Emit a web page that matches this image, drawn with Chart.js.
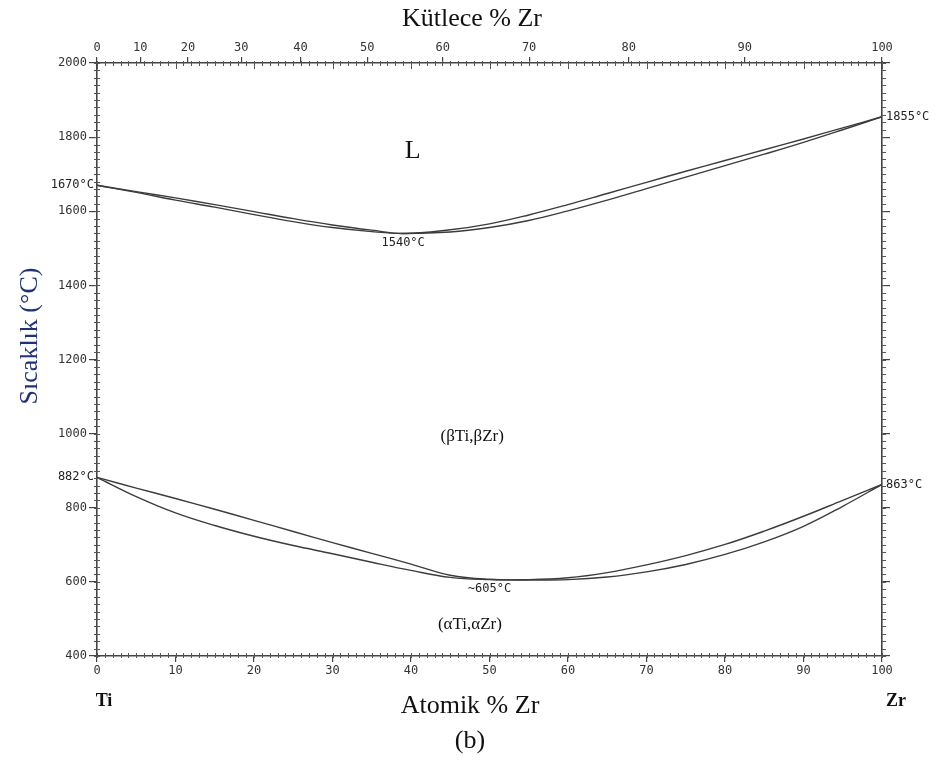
<!DOCTYPE html>
<html>
<head>
<meta charset="utf-8">
<script src="https://cdn.jsdelivr.net/npm/chart.js@4.4.1/dist/chart.umd.min.js"></script>
<style>
  html, body { margin: 0; background: #fff; }
  canvas { display: block; }
</style>
</head>
<body>
<canvas id="chart" width="942" height="763"></canvas>
<script>
// atomic % Zr positions used by the upper lens
const atomicX = [0, 5, 10, 15, 20, 25, 30, 35, 39, 45, 50, 55, 60, 65, 70, 75, 80, 85, 90, 95, 100];
// L / (βTi,βZr) lens
const liquidusT = [1670, 1653, 1636, 1618, 1599, 1580, 1563, 1549, 1540, 1550, 1566, 1590, 1618, 1648, 1678, 1708, 1737, 1766, 1795, 1825, 1855];
const solidusT  = [1670, 1651, 1630, 1611, 1591, 1572, 1556, 1545, 1540, 1544, 1556, 1575, 1601, 1630, 1661, 1692, 1723, 1754, 1786, 1820, 1855];

// (βTi,βZr) / (αTi,αZr) lens
const transusX = [0, 5, 10, 15, 20, 25, 30, 35, 40, 45, 50, 55, 60, 65, 70, 75, 80, 85, 90, 95, 100];
const betaT  = [882, 853, 825, 796, 766, 736, 706, 677, 648, 618, 607, 606, 611, 625, 646, 671, 701, 737, 777, 820, 863];
const alphaT = [882, 830, 786, 752, 723, 698, 676, 653, 631, 612, 606, 605, 606, 613, 627, 647, 674, 708, 750, 804, 863];

// axis ticks
const yTicks = [400, 600, 800, 1000, 1200, 1400, 1600, 1800, 2000];
const bottomTicks = [0, 10, 20, 30, 40, 50, 60, 70, 80, 90, 100];
const massTicks = [0, 10, 20, 30, 40, 50, 60, 70, 80, 90, 100];

const ZR_MASS = 91.22;
const TI_MASS = 47.87;

// mass % Zr -> atomic % Zr, for placing the top axis
function massToAtomic(w) {
  if (w >= 100) return 100;
  const r = (w / (100 - w)) * (TI_MASS / ZR_MASS);
  return (100 * r) / (1 + r);
}

const tickFont = { family: 'DejaVu Sans Mono', size: 12 };
const tickColor = '#333';
const lineColor = '#3c3c3c';

function series(xs, ys) {
  return xs.map((x, i) => ({ x, y: ys[i] }));
}

function boundary(xs, ys) {
  return {
    data: series(xs, ys),
    showLine: true,
    borderColor: lineColor,
    borderWidth: 1.4,
    pointRadius: 0,
    fill: false,
    tension: 0.4,
  };
}

const minorTicks = {
  id: 'minorTicks',
  afterDraw(chart) {
    const { ctx, chartArea: a, scales } = chart;
    ctx.save();
    ctx.strokeStyle = '#555';
    ctx.lineWidth = 1;
    ctx.beginPath();
    for (let v = 0; v <= 100; v += 1) {
      const px = Math.round(scales.x.getPixelForValue(v)) + 0.5;
      ctx.moveTo(px, a.bottom - 3);
      ctx.lineTo(px, a.bottom + 2);
      ctx.moveTo(px, a.top - 2);
      ctx.lineTo(px, a.top + 3);
    }
    // inward marks on the top edge at every 10 at%
    bottomTicks.forEach((v) => {
      const px = Math.round(scales.x.getPixelForValue(v)) + 0.5;
      ctx.moveTo(px, a.top);
      ctx.lineTo(px, a.top + 6);
    });
    for (let t = 400; t <= 2000; t += 20) {
      const py = Math.round(scales.y.getPixelForValue(t)) + 0.5;
      ctx.moveTo(a.left - 3, py);
      ctx.lineTo(a.left + 3, py);
      ctx.moveTo(a.right, py);
      ctx.lineTo(a.right + 4, py);
    }
    ctx.stroke();
    ctx.restore();
  },
};

const labels = {
  id: 'labels',
  afterDraw(chart) {
    const { ctx, scales } = chart;
    const px = (v) => scales.x.getPixelForValue(v);
    const py = (t) => scales.y.getPixelForValue(t);
    ctx.save();
    ctx.textBaseline = 'middle';

    ctx.fillStyle = '#111';
    ctx.textAlign = 'center';
    ctx.font = '26px "Liberation Serif"';
    ctx.fillText('Kütlece % Zr', 472, 19);
    ctx.fillText('Atomik % Zr', 470, 706);
    ctx.fillText('(b)', 470, 741);
    ctx.fillText('L', px(40.2), py(1762));

    ctx.font = 'bold 18px "Liberation Serif"';
    ctx.fillText('Ti', 104, 701);
    ctx.fillText('Zr', 896, 701);

    ctx.font = '17px "Liberation Serif"';
    ctx.fillText('(βTi,βZr)', px(47.8), py(992));
    ctx.fillText('(αTi,αZr)', px(47.5), py(484));

    ctx.font = '12px "DejaVu Sans Mono"';
    ctx.fillStyle = '#222';
    ctx.fillText('1540°C', px(39), py(1514));
    ctx.fillText('~605°C', px(50), py(581));
    ctx.textAlign = 'right';
    ctx.fillText('1670°C', 94, py(1670));
    ctx.fillText('882°C', 94, py(882));
    ctx.textAlign = 'left';
    ctx.fillText('1855°C', 886, py(1855));
    ctx.fillText('863°C', 886, py(863));

    ctx.translate(30, 336);
    ctx.rotate(-Math.PI / 2);
    ctx.textAlign = 'center';
    ctx.fillStyle = '#1f3474';
    ctx.font = '26px "Liberation Serif"';
    ctx.fillText('Sıcaklık (°C)', 0, 0);
    ctx.restore();
  },
};

new Chart(document.getElementById('chart'), {
  type: 'scatter',
  data: {
    datasets: [
      boundary(atomicX, liquidusT),
      boundary(atomicX, solidusT),
      boundary(transusX, betaT),
      boundary(transusX, alphaT),
    ],
  },
  options: {
    responsive: false,
    animation: false,
    layout: { padding: 0 },
    plugins: { legend: { display: false }, tooltip: { enabled: false } },
    scales: {
      x: {
        type: 'linear',
        position: 'bottom',
        min: 0,
        max: 100,
        afterBuildTicks: (s) => { s.ticks = bottomTicks.map((value) => ({ value })); },
        ticks: { font: tickFont, color: tickColor, padding: 2, autoSkip: false, maxRotation: 0 },
        grid: { drawOnChartArea: false, tickLength: 6, color: '#444', lineWidth: 1.2 },
        border: { color: '#444', width: 1.6 },
        afterFit: (s) => { s.height = 107; },
      },
      x2: {
        type: 'linear',
        position: 'top',
        min: 0,
        max: 100,
        afterBuildTicks: (s) => { s.ticks = massTicks.map((w) => ({ value: massToAtomic(w) })); },
        ticks: {
          font: tickFont,
          color: tickColor,
          padding: 2,
          autoSkip: false,
          maxRotation: 0,
          callback: (v, i) => String(massTicks[i]),
        },
        grid: { drawOnChartArea: false, tickLength: 6, color: '#444', lineWidth: 1.2 },
        border: { color: '#444', width: 1.6 },
        afterFit: (s) => { s.height = 63; },
      },
      y: {
        type: 'linear',
        position: 'left',
        min: 400,
        max: 2000,
        afterBuildTicks: (s) => { s.ticks = yTicks.map((value) => ({ value })); },
        ticks: { font: tickFont, color: tickColor, padding: 2, callback: (v) => String(v) },
        grid: { drawOnChartArea: false, tickLength: 8, color: '#444', lineWidth: 1.2 },
        border: { color: '#444', width: 1.6 },
        afterFit: (s) => { s.width = 97; },
      },
      y2: {
        type: 'linear',
        position: 'right',
        min: 400,
        max: 2000,
        afterBuildTicks: (s) => { s.ticks = yTicks.map((value) => ({ value })); },
        ticks: { display: false },
        grid: { drawOnChartArea: false, tickLength: 8, color: '#444', lineWidth: 1.2 },
        border: { color: '#444', width: 1.6 },
        afterFit: (s) => { s.width = 60; },
      },
    },
  },
  plugins: [minorTicks, labels],
});
</script>
</body>
</html>
